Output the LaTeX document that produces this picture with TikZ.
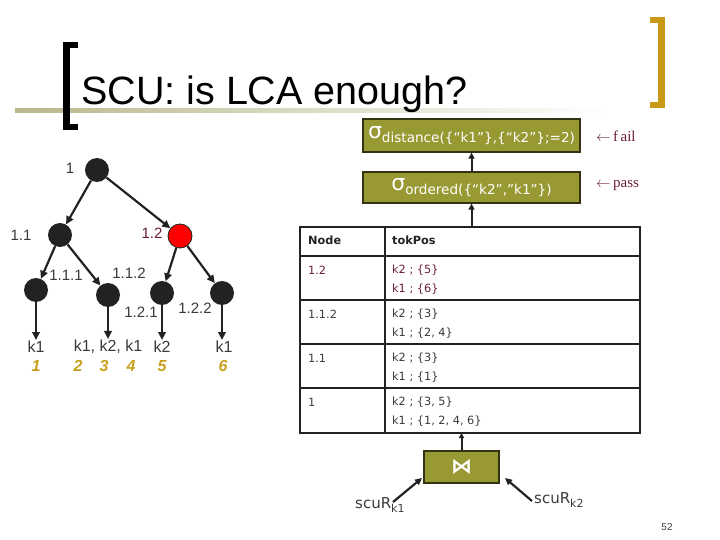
\documentclass[tikz,border=0pt]{standalone}
\usepackage{fontspec}
\setmainfont{Liberation Sans}
\newfontfamily\dv{DejaVu Sans}
\newfontfamily\srf{Liberation Serif}
\usetikzlibrary{arrows.meta}
\definecolor{boxolive}{HTML}{999933}
\definecolor{boxedge}{HTML}{333311}
\definecolor{brgold}{HTML}{C99A17}
\definecolor{wine}{HTML}{6B1E3A}
\definecolor{leafgold}{HTML}{C9A01E}
\definecolor{ink}{HTML}{222222}
\definecolor{txtgray}{HTML}{3A3A3A}
\definecolor{barline}{HTML}{B8B88C}
\tikzset{
  tnode/.style={circle,fill=ink,minimum size=24,inner sep=0},
  rnode/.style={circle,fill=red,draw=ink,line width=0.8,minimum size=24,inner sep=0},
  arr/.style={draw=ink,line width=2.2,-{Triangle[length=8,width=7.5]}},
  tlabel/.style={font=\fontsize{15}{15}\selectfont,text=txtgray,inner sep=0},
  leaf/.style={font=\fontsize{16}{16}\selectfont,text=txtgray,inner sep=1},
  num/.style={font=\fontsize{16}{16}\selectfont\bfseries\itshape,text=leafgold,inner sep=0},
  obox/.style={fill=boxolive,draw=boxedge,line width=1.2,text=white,inner sep=0},
  cell/.style={font=\dv\fontsize{11.3}{11.3}\selectfont,text=txtgray,anchor=west,inner sep=0},
  hcell/.style={font=\dv\bfseries\fontsize{11.3}{11.3}\selectfont,text=ink,anchor=west,inner sep=0},
  tline/.style={draw=ink,line width=2},
}
\begin{document}
\begin{tikzpicture}[x=1pt,y=-1pt]
\useasboundingbox (0,0) rectangle (720,540);
% title decoration
\shade[left color=barline,right color=white] (15,108.5) rectangle (610,113);
\fill[black] (63,42) rectangle (70,130);
\fill[black] (63,42) rectangle (78,48);
\fill[black] (63,124) rectangle (78,130);
\fill[brgold] (658,17) rectangle (665,108);
\fill[brgold] (650,17) rectangle (665,23);
\fill[brgold] (650,102) rectangle (665,108);
\node[anchor=base west,inner sep=0,font=\fontsize{39.5}{39.5}\selectfont,text=black] (title) at (81,105) {SCU: is LCA enough?};

% tree
\node[tnode] (n1) at (97,170) {};
\node[tnode] (n11) at (60,235) {};
\node[rnode] (n12) at (180,236) {};
\node[tnode] (n111) at (36,290) {};
\node[tnode] (n112) at (108,295) {};
\node[tnode] (n121) at (162,293) {};
\node[tnode] (n122) at (222,293) {};
\draw[arr] (n1) -- (n11);
\draw[arr] (n1) -- (n12);
\draw[arr] (n11) -- (n111);
\draw[arr] (n11) -- (n112);
\draw[arr] (n12) -- (n121);
\draw[arr] (n12) -- (n122);
\node[tlabel] (lb1) at (70,168) {1};
\node[tlabel] (lb11) at (21,235) {1.1};
\node[tlabel,text=wine] (lb12) at (152,233) {1.2};
\node[tlabel] (lb111) at (66,275) {1.1.1};
\node[tlabel] (lb112) at (129,273) {1.1.2};
\node[tlabel] (lb121) at (141,312) {1.2.1};
\node[tlabel] (lb122) at (195,308) {1.2.2};
\node[leaf] (f1) at (36,347) {k1};
\node[leaf] (f2) at (108,347) {k1, k2, k1};
\node[leaf] (f3) at (162,347) {k2};
\node[leaf] (f4) at (224,347) {k1};
\draw[arr] (n111) -- (n111 |- f1.north);
\draw[arr] (n112) -- (n112 |- f2.north);
\draw[arr] (n121) -- (n121 |- f3.north);
\draw[arr] (n122) -- (n122 |- f4.north);
\node[num] (d1) at (36,366) {1};
\node[num] (d2) at (78,366) {2};
\node[num] (d3) at (104,366) {3};
\node[num] (d4) at (131,366) {4};
\node[num] (d5) at (162,366) {5};
\node[num] (d6) at (223,366) {6};

% sigma boxes
\node[obox,minimum width=217,minimum height=33] (s1) at (471.5,135.5)
  {\dv{\fontsize{22}{22}\selectfont σ}\raisebox{-4.5pt}{\fontsize{13.6}{13.6}\selectfont distance(\{“k1”\},\{“k2”\};=2)}};
\node[obox,minimum width=217,minimum height=31] (s2) at (471.5,187.5)
  {\dv{\fontsize{22}{22}\selectfont σ}\raisebox{-4.5pt}{\fontsize{13.6}{13.6}\selectfont ordered(\{“k2”,”k1”\})}};
\node[anchor=west,inner sep=0,text=wine,font=\srf\fontsize{15}{15}\selectfont] (fail) at (596,136) {$\leftarrow$\,f\,ail};
\node[anchor=west,inner sep=0,text=wine,font=\srf\fontsize{15}{15}\selectfont] (pass) at (596,186) {$\leftarrow$\,pass};
\draw[arr,line width=2,-{Triangle[length=6,width=6]}] (s2.north) -- (s1.south);

% table
\coordinate (tl) at (300,227);
\coordinate (br) at (640,433);
\draw[tline] (tl) rectangle (br);
\draw[tline] (385,227) -- (385,433);
\draw[tline] (300,256) -- (640,256);
\draw[tline] (300,300) -- (640,300);
\draw[tline] (300,344) -- (640,344);
\draw[tline] (300,388) -- (640,388);
\draw[arr,line width=2,-{Triangle[length=6,width=6]}] (471.5,227) -- (s2.south);
\node[hcell] (h1) at (308,240) {Node};
\node[hcell] (h2) at (392,240) {tokPos};
\node[cell,text=wine] (r1a) at (308,270) {1.2};
\node[cell,text=wine] (r1b) at (392,270) {k2 ; \{5\}};
\node[cell,text=wine] (r1c) at (392,289) {k1 ; \{6\}};
\node[cell] (r2a) at (308,314) {1.1.2};
\node[cell] (r2b) at (392,314) {k2 ; \{3\}};
\node[cell] (r2c) at (392,333) {k1 ; \{2, 4\}};
\node[cell] (r3a) at (308,358) {1.1};
\node[cell] (r3b) at (392,358) {k2 ; \{3\}};
\node[cell] (r3c) at (392,377) {k1 ; \{1\}};
\node[cell] (r4a) at (308,402) {1};
\node[cell] (r4b) at (392,402) {k2 ; \{3, 5\}};
\node[cell] (r4c) at (392,421) {k1 ; \{1, 2, 4, 6\}};

% join box
\node[obox,minimum width=75,minimum height=32,font=\dv\bfseries\fontsize{21}{21}\selectfont] (jb) at (461.5,467) {⋈};
\draw[arr,line width=2,-{Triangle[length=5,width=5]}] (jb.north) -- (461.5,433);
\node[anchor=base west,inner sep=0,text=txtgray,font=\dv\fontsize{15}{15}\selectfont] (sk1) at (355,508) {scuR\raisebox{-4pt}{\fontsize{11}{11}\selectfont k1}};
\node[anchor=base west,inner sep=0,text=txtgray,font=\dv\fontsize{15}{15}\selectfont] (sk2) at (534,503) {scuR\raisebox{-4pt}{\fontsize{11}{11}\selectfont k2}};
\coordinate (a1) at (393,502);
\coordinate (a1e) at (422,478);
\coordinate (a2) at (532,501);
\coordinate (a2e) at (505,478);
\draw[arr,line width=2.2,-{Triangle[length=7,width=6.5]}] (a1) -- (a1e);
\draw[arr,line width=2.2,-{Triangle[length=7,width=6.5]}] (a2) -- (a2e);

\node[inner sep=0,text=txtgray,font=\fontsize{10}{10}\selectfont] (pg) at (667,527) {52};
\end{tikzpicture}
\end{document}
